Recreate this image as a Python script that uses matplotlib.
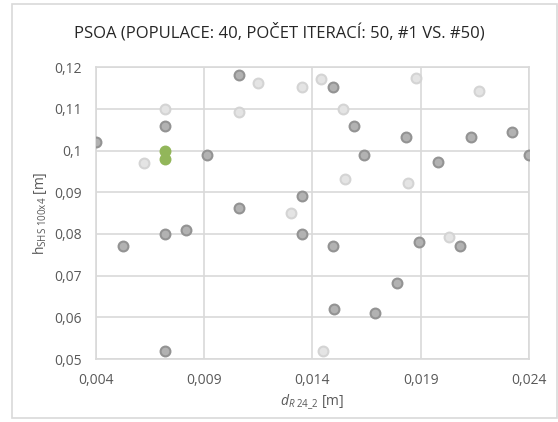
import matplotlib.pyplot as plt
from matplotlib.patches import Rectangle
from matplotlib.ticker import FuncFormatter, MultipleLocator

plt.rcParams['font.family'] = ['Open Sans', 'DejaVu Sans']
plt.rcParams['mathtext.fontset'] = 'custom'
plt.rcParams['mathtext.rm'] = 'Open Sans'
plt.rcParams['mathtext.it'] = 'Open Sans:italic'

# populace #1 (iterace 1)
d_first = [0.0040, 0.0106, 0.0072, 0.00525, 0.0072, 0.00816, 0.0072, 0.00913,
           0.0106, 0.0135, 0.0135, 0.01495, 0.0159, 0.0164, 0.01495, 0.0150,
           0.0169, 0.0179, 0.0183, 0.0189, 0.0198, 0.0208, 0.0213, 0.0232, 0.0240]
h_first = [0.102, 0.118, 0.106, 0.077, 0.080, 0.081, 0.052, 0.099,
           0.0862, 0.089, 0.080, 0.1152, 0.106, 0.099, 0.077, 0.062,
           0.061, 0.0682, 0.1032, 0.078, 0.0972, 0.077, 0.1032, 0.1044, 0.099]

# populace #50 (iterace 50)
d_last = [0.0072, 0.0062, 0.0106, 0.0115, 0.0135, 0.0144, 0.0154, 0.0155,
          0.0188, 0.0217, 0.0184, 0.0130, 0.0203, 0.0145]
h_last = [0.110, 0.097, 0.1092, 0.1162, 0.1152, 0.1171, 0.110, 0.0932,
          0.1174, 0.1142, 0.0922, 0.085, 0.0792, 0.052]

# nejlepsi reseni
d_best = [0.0072, 0.0072]
h_best = [0.100, 0.098]

x_ticks = [0.004, 0.009, 0.014, 0.019, 0.024]

fig = plt.figure(figsize=(5.58, 4.22), dpi=100)
ax = fig.add_axes([0.172, 0.149, 0.776, 0.692])

ax.scatter(d_last, h_last, s=50, color='#e4e4e4', edgecolor='#d4d4d4', linewidth=1.5, zorder=3)
ax.scatter(d_first, h_first, s=50, color='#b2b2b2', edgecolor='#939393', linewidth=1.5, zorder=4)
ax.scatter(d_best, h_best, s=50, color='#92b65a', edgecolor='#92b65a', linewidth=1.5, zorder=5)

ax.set_xlim(0.004, 0.024)
ax.set_ylim(0.05, 0.12)
ax.set_xticks(x_ticks)
ax.yaxis.set_major_locator(MultipleLocator(0.01))


def fmt(v, pos):
    s = ('%.3f' % v).rstrip('0').rstrip('.')
    return s.replace('.', ',')


ax.xaxis.set_major_formatter(FuncFormatter(fmt))
ax.yaxis.set_major_formatter(FuncFormatter(fmt))

ax.grid(True, color='#d9d9d9', linewidth=1.2, zorder=0)
ax.set_axisbelow(True)
for sp in ax.spines.values():
    sp.set_color('#d9d9d9')
    sp.set_linewidth(1.2)
ax.tick_params(length=0, labelsize=10, labelcolor='#595959', pad=10)

ax.set_xlabel(r'$d_{R\ 24\_2}$ [m]', fontsize=10, color='#595959', labelpad=3)
ax.set_ylabel(r'h$_{\mathrm{SHS\ 100x4}}$ [m]', fontsize=10, color='#595959', labelpad=4)
fig.text(0.5, 1 - 32 / 422, 'PSOA (POPULACE: 40, POČET ITERACÍ: 50, #1 VS. #50)',
         fontsize=12, color='#262626', ha='center', va='center')

fig.patches.append(Rectangle((12 / 558, 4 / 422), 545 / 558, 414 / 422, transform=fig.transFigure,
                             fill=False, edgecolor='#d9d9d9', linewidth=1.2))

fig.savefig('out.png', dpi=100)
